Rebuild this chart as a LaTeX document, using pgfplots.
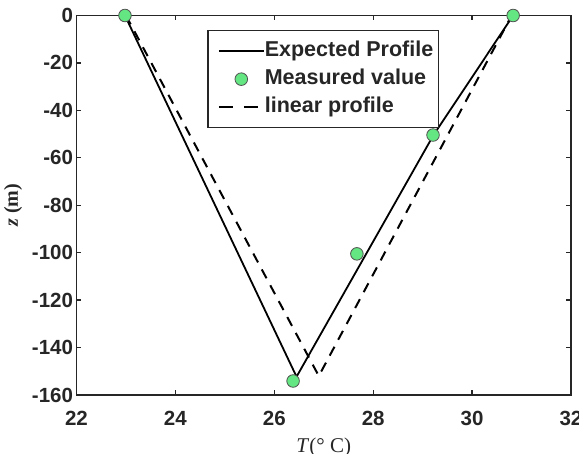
\documentclass[border=0pt]{standalone}
\usepackage{fontspec}
\setmainfont{Liberation Sans}
\newfontfamily\seriffont{Liberation Serif}
\usepackage{pgfplots}
\pgfplotsset{compat=1.18}
\definecolor{axgray}{RGB}{38,38,38}
\definecolor{mgreen}{RGB}{100,230,130}
\pgfplotsset{
  legline/.style={legend image code/.code={\path (0pt,0pt); \draw[##1] (5pt,0pt) -- (50pt,0pt);}},
  legmark/.style={legend image code/.code={\path (0pt,0pt) (50pt,0pt); \draw[##1] plot coordinates {(27.5pt,0pt)};}},
  legdash/.style={legend image code/.code={\path (0pt,0pt) (50pt,0pt); \draw[##1, dash pattern=on 14pt off 11pt] (5pt,0pt) -- (45pt,0pt);}},
}
\begin{document}
\begin{tikzpicture}
\begin{axis}[
  name=ax,
  scale only axis, width=494.5pt, height=379.5pt,
  xmin=22, xmax=32, ymin=-160, ymax=0,
  xtick={22,24,26,28,30,32}, xticklabels={22,24,26,28,30,32},
  ytick={-160,-140,-120,-100,-80,-60,-40,-20,0},
  yticklabels={-160,-140,-120,-100,-80,-60,-40,-20,0},
  tick align=inside, tick pos=both, major tick length=5pt,
  axis line style={axgray, line width=1.6pt},
  every tick/.style={axgray, line width=1.3pt},
  tick label style={font=\fontsize{20.5}{24}\selectfont\bfseries, text=axgray},
  xticklabel style={yshift=-13pt},
  xlabel={{\seriffont\fontsize{21}{24}\selectfont\textit{T}(° C)}},
  ylabel={{\seriffont\fontsize{20}{24}\selectfont\bfseries\textit{z} (m)}},
  xlabel style={at={(axis description cs:0.5,-0.138)}, anchor=center, text=axgray},
  ylabel style={at={(axis description cs:-0.1284,0.5)}, anchor=center, text=axgray},
  legend style={at={(rel axis cs:0.264,0.962)}, anchor=north west,
    draw=axgray, line width=1.5pt, fill=white,
    font=\fontsize{21.5}{24}\selectfont\bfseries, text=axgray,
    inner xsep=5pt, inner ysep=11pt, row sep=9pt,
    nodes={inner sep=0pt, text height=14.5pt, text depth=4.5pt},
    /tikz/every even column/.append style={column sep=5pt}},
  legend cell align=left,
]
\addplot[black, line width=1.8pt, legline]
  coordinates {(22.98,0) (26.45,-152.3) (29.22,-50.4) (30.83,0)};
\addlegendentry{Expected Profile}
\addplot[only marks, mark=*, mark size=6.3pt,
  mark options={fill=mgreen, draw=axgray!80, line width=0.8pt}, legmark]
  coordinates {(22.98,0) (26.38,-154.1) (27.67,-100.5) (29.21,-50.4) (30.83,0)};
\addlegendentry{Measured value}
\addplot[black, line width=2pt, dash pattern=on 10pt off 8pt, legdash]
  coordinates {(23.0,0) (26.9,-152) (30.8,0)};
\addlegendentry{linear profile}
\end{axis}
\pgfresetboundingbox
\path[use as bounding box] (-76.5pt,-59pt) rectangle (502.5pt,395pt);
\end{tikzpicture}
\end{document}
